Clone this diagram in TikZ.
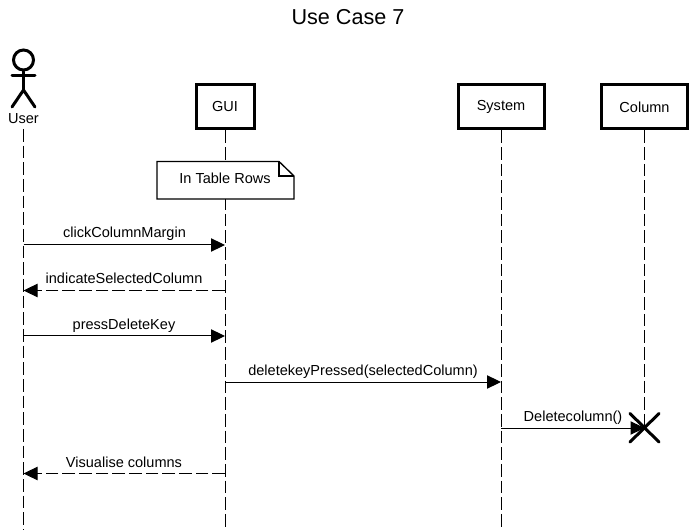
\documentclass[tikz,border=0pt]{standalone}
\usepackage{fontspec}
\setmainfont{Liberation Sans}
\usetikzlibrary{arrows.meta}
\tikzset{
  px/.style={x=0.75pt,y=-0.75pt},
  lifebox/.style={draw,line width=2.25pt,fill=white,minimum height=33pt,inner sep=0pt,font=\fontsize{10.9pt}{12pt}\selectfont},
  lifeline/.style={line width=0.75pt,dash pattern=on 9.5pt off 3pt},
  msg/.style={line width=0.75pt,-{Triangle[length=10.5pt,width=10pt]}},
  reply/.style={msg,dash pattern=on 9.5pt off 3pt},
  msglabel/.style={inner sep=0pt,font=\fontsize{10.9pt}{12pt}\selectfont,anchor=base},
  actorline/.style={line width=2.25pt,line cap=round},
  destroy/.style={line width=2.25pt,line cap=round},
  notebody/.style={draw,line width=1pt,fill=white}
}
\begin{document}
\begin{tikzpicture}[px]
\useasboundingbox (0,0) rectangle (695,530);
\fill[white] (0,0) rectangle (695,530);
\node[inner sep=0pt,anchor=base,font=\fontsize{16.2pt}{18pt}\selectfont] (title) at (348,25) {Use Case 7};
% boxes
\node[lifebox,minimum width=43.5pt] (gui) at (225,107) {\raisebox{-1.3pt}{GUI}};
\node[lifebox,minimum width=64.5pt] (system) at (501,107) {\raisebox{-1.3pt}{System}};
\node[lifebox,minimum width=64pt] (column) at (644.5,107) {\raisebox{-1.3pt}{Column}};
% actor
\node[draw,circle,line width=2.25pt,minimum size=15pt,inner sep=0pt] (head) at (23.5,60) {};
\coordinate (hip) at (23.5,90);
\coordinate (armL) at (12,75.5);
\coordinate (armR) at (35,75.5);
\coordinate (footL) at (12,107);
\coordinate (footR) at (35,107);
\draw[actorline] (head.south) -- (hip);
\draw[actorline] (armL) -- (armR);
\draw[actorline] (footL) -- (hip) -- (footR);
\node[inner sep=0pt,anchor=base,font=\fontsize{10.9pt}{12pt}\selectfont] (user) at (23.5,124) {User};
% lifeline ends
\coordinate (ub) at (23.5,530);
\coordinate (ut) at (23.5,129);
\coordinate (gb) at (225,530);
\coordinate (sb) at (501,530);
\coordinate (cb) at (644.5,428);
\draw[lifeline] (ut) -- (ub);
\draw[lifeline] (gui.south) -- (gb);
\draw[lifeline] (system.south) -- (sb);
\draw[lifeline] (column.south) -- (cb);
% note
\coordinate (n1) at (157,161.5);
\coordinate (n2) at (279,161.5);
\coordinate (n3) at (294,176);
\coordinate (n4) at (294,199);
\coordinate (n5) at (157,199);
\coordinate (n6) at (279,176);
\draw[notebody] (n1) -- (n2) -- (n3) -- (n4) -- (n5) -- cycle;
\draw[line width=1pt] (n2) -- (n6) -- (n3);
\node[inner sep=0pt,anchor=base,font=\fontsize{10.9pt}{12pt}\selectfont] (notetext) at (225,184) {In Table Rows};
% messages
\coordinate (u1) at (23.5,245); \coordinate (g1) at (225,245);
\coordinate (u2) at (23.5,290.5); \coordinate (g2) at (225,290.5);
\coordinate (u3) at (23.5,336); \coordinate (g3) at (225,336);
\coordinate (g4) at (225,382); \coordinate (s4) at (501,382);
\coordinate (s5) at (501,428); \coordinate (c5) at (644.5,428);
\coordinate (g6) at (225,473.5); \coordinate (u6) at (23.5,473.5);
\draw[msg] (u1) -- (g1);
\draw[reply] (g2) -- (u2);
\draw[msg] (u3) -- (g3);
\draw[msg] (g4) -- (s4);
\draw[msg] (s5) -- (c5);
\draw[reply] (g6) -- (u6);
\node[msglabel] (l1) at (124.5,238) {clickColumnMargin};
\node[msglabel] (l2) at (124,284) {indicateSelectedColumn};
\node[msglabel] (l3) at (124,330) {pressDeleteKey};
\node[msglabel] (l4) at (363,375) {deletekeyPressed(selectedColumn)};
\node[msglabel] (l5) at (573,421) {Deletecolumn()};
\node[msglabel] (l6) at (124,467) {Visualise columns};
% destroy mark
\coordinate (xa) at (630,413.5); \coordinate (xb) at (659,442);
\coordinate (xc) at (659,413.5); \coordinate (xd) at (630,442);
\draw[destroy] (xa) -- (xb);
\draw[destroy] (xc) -- (xd);
\end{tikzpicture}
\end{document}
